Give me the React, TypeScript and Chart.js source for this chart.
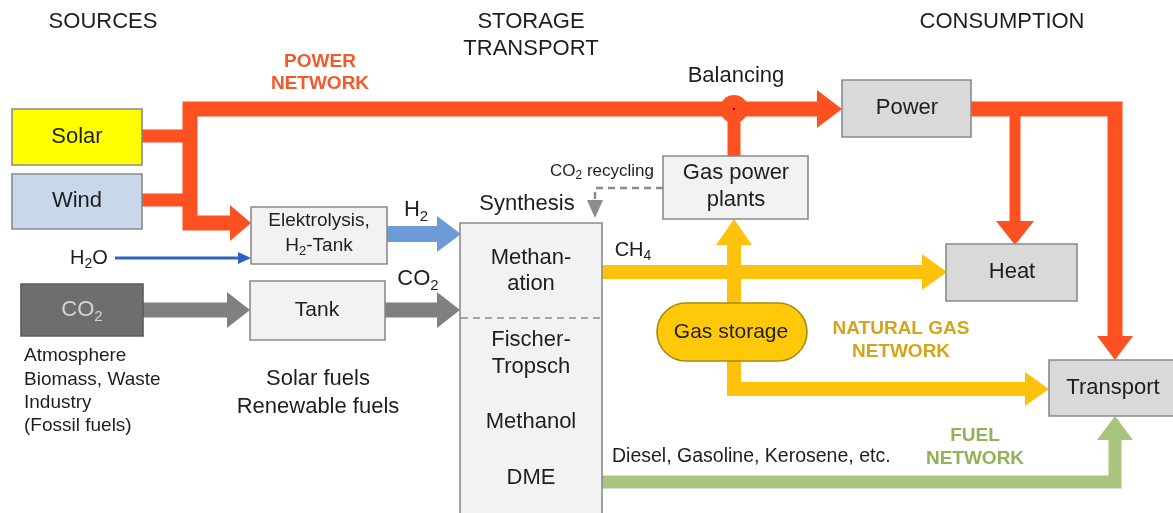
import { useEffect, useRef } from "react";
import { Chart, registerables } from "chart.js";

Chart.register(...registerables);

// ---------- content ----------
const columnTitles = ["SOURCES", "STORAGE", "TRANSPORT", "CONSUMPTION"];
const nodeNames = [
  "Solar",
  "Wind",
  "CO_2",
  "Elektrolysis,|H_2-Tank",
  "Tank",
  "Methan-|ation",
  "Fischer-|Tropsch",
  "Methanol",
  "DME",
  "Gas power|plants",
  "Gas storage",
  "Power",
  "Heat",
  "Transport",
];
const networkNames = ["POWER|NETWORK", "NATURAL GAS|NETWORK", "FUEL|NETWORK"];
const flowLabels = ["H_2O", "H_2", "CO_2", "CH_4", "CO_2 recycling", "Synthesis", "Balancing", "Diesel, Gasoline, Kerosene, etc."];
const noteLines = ["Atmosphere", "Biomass, Waste", "Industry", "(Fossil fuels)"];
const fuelLines = ["Solar fuels", "Renewable fuels"];

// ---------- flow paths (diagram units) ----------
const powerTrunk = [[232, 223], [190, 223], [190, 109], [818, 109]];
const solarFeed = [[142, 136], [190, 136]];
const windFeed = [[142, 200], [190, 200]];
const balancingLink = [[734, 109], [734, 156]];
const powerOut = [[970, 109], [1115, 109], [1115, 337]];
const heatBranch = [[1015, 109], [1015, 222]];
const ch4Line = [[602, 272], [923, 272]];
const gasLine = [[734, 244], [734, 389], [1026, 389]];
const fuelLine = [[602, 482], [1115, 482], [1115, 440]];
const h2Line = [[387, 234], [438, 234]];
const co2LineA = [[143, 310], [228, 310]];
const co2LineB = [[385, 310], [438, 310]];
const h2oLine = [[115, 258], [239, 258]];
const recycleLine = [[663, 188], [595, 188], [595, 201]];

const RED = "#fe5122";
const YEL = "#ffc20c";
const GRN = "#a9c47e";
const BLU = "#6c9bd8";
const DBL = "#2f63c0";
const GRY = "#808080";
const DGR = "#8c8c8c";

const flows = [
  { pts: powerTrunk, color: RED, w: 15 },
  { pts: solarFeed, color: RED, w: 13 },
  { pts: windFeed, color: RED, w: 13 },
  { pts: balancingLink, color: RED, w: 13 },
  { pts: powerOut, color: RED, w: 15 },
  { pts: heatBranch, color: RED, w: 11 },
  { pts: ch4Line, color: YEL, w: 14 },
  { pts: gasLine, color: YEL, w: 14 },
  { pts: fuelLine, color: GRN, w: 13 },
  { pts: h2Line, color: BLU, w: 16 },
  { pts: co2LineA, color: GRY, w: 15 },
  { pts: co2LineB, color: GRY, w: 15 },
  { pts: h2oLine, color: DBL, w: 3 },
  { pts: recycleLine, color: DGR, w: 2.5, dash: [7, 5] },
];

// arrowheads: tip x, tip y, direction, length, half width, colour
const arrowTipX = [251, 842, 1015, 1115, 947, 734, 1049, 1115, 461, 250, 460, 251, 595];
const arrowTipY = [223, 109, 245, 360, 272, 219, 389, 416, 234, 310, 310, 258, 218];
const arrowDir = ["r", "r", "d", "d", "r", "u", "r", "u", "r", "r", "r", "r", "d"];
const arrowLen = [21, 25, 24, 24, 25, 26, 24, 24, 24, 23, 23, 13, 18];
const arrowHalf = [18, 19, 19, 18, 18, 18, 17, 18, 18, 18, 18, 6, 8];
const arrowColor = [RED, RED, RED, RED, YEL, YEL, YEL, GRN, BLU, GRY, GRY, DBL, DGR];

// boxes: x1, y1, x2, y2
const boxX1 = [12, 12, 21, 251, 250, 460, 663, 657, 842, 946, 1049];
const boxY1 = [109, 174, 284, 207, 281, 223, 156, 303, 80, 244, 360];
const boxX2 = [142, 142, 143, 387, 385, 602, 808, 807, 971, 1077, 1185];
const boxY2 = [165, 229, 336, 264, 340, 525, 219, 361, 137, 301, 416];
const boxFill = ["#ffff00", "#c8d8ea", "#6e6e6e", "#f2f2f2", "#f2f2f2", "#f2f2f2", "#f2f2f2", "#ffc90a", "#d9d9d9", "#d9d9d9", "#d9d9d9"];
const boxStroke = ["#8a8a8a", "#8a8a8a", "#5c5c5c", "#8a8a8a", "#8a8a8a", "#8a8a8a", "#8a8a8a", "#a88a10", "#8a8a8a", "#8a8a8a", "#8a8a8a"];
const boxPill = [false, false, false, false, false, false, false, true, false, false, false];

type T = { s: string; x: number; y: number; size: number; bold?: boolean; color?: string; align?: "left" | "center"; lh?: number };

const texts: T[] = [
  { s: columnTitles[0], x: 103, y: 22, size: 22 },
  { s: columnTitles[1], x: 531, y: 22, size: 22 },
  { s: columnTitles[2], x: 531, y: 49, size: 22 },
  { s: columnTitles[3], x: 1002, y: 22, size: 22 },
  { s: nodeNames[0], x: 77, y: 137, size: 22 },
  { s: nodeNames[1], x: 77, y: 201, size: 22 },
  { s: nodeNames[2], x: 82, y: 310, size: 22, color: "#d4d4d4" },
  { s: nodeNames[3], x: 319, y: 221, size: 19, lh: 25 },
  { s: nodeNames[4], x: 317, y: 310, size: 21 },
  { s: nodeNames[5], x: 531, y: 258, size: 22, lh: 26 },
  { s: nodeNames[6], x: 531, y: 340, size: 22, lh: 27 },
  { s: nodeNames[7], x: 531, y: 422, size: 22 },
  { s: nodeNames[8], x: 531, y: 478, size: 22 },
  { s: nodeNames[9], x: 736, y: 173, size: 22, lh: 27 },
  { s: nodeNames[10], x: 731, y: 332, size: 21 },
  { s: nodeNames[11], x: 907, y: 108, size: 22 },
  { s: nodeNames[12], x: 1012, y: 272, size: 22 },
  { s: nodeNames[13], x: 1113, y: 388, size: 22 },
  { s: networkNames[0], x: 320, y: 62, size: 19, bold: true, color: "#f25a2a", lh: 22 },
  { s: networkNames[1], x: 901, y: 329, size: 19, bold: true, color: "#d4a41c", lh: 23 },
  { s: networkNames[2], x: 975, y: 436, size: 19, bold: true, color: "#93b257", lh: 23 },
  { s: flowLabels[0], x: 89, y: 258, size: 20 },
  { s: flowLabels[1], x: 416, y: 210, size: 22 },
  { s: flowLabels[2], x: 418, y: 279, size: 22 },
  { s: flowLabels[3], x: 633, y: 250, size: 20 },
  { s: flowLabels[4], x: 602, y: 171, size: 17 },
  { s: flowLabels[5], x: 527, y: 204, size: 22 },
  { s: flowLabels[6], x: 736, y: 76, size: 22 },
  { s: flowLabels[7], x: 612, y: 457, size: 19.5, align: "left" },
  { s: noteLines.join("|"), x: 24, y: 356, size: 19, align: "left", lh: 23.3 },
  { s: fuelLines.join("|"), x: 318, y: 379, size: 22, lh: 28 },
];

const FONT = '"Liberation Sans", Arial, sans-serif';

function drawRich(ctx: CanvasRenderingContext2D, str: string, x: number, y: number, size: number, bold: boolean, color: string, align: string) {
  const segs = str.split(/(_\d)/).filter((p) => p.length).map((p) => (p.startsWith("_") && p.length === 2 ? { t: p.slice(1), sub: true } : { t: p, sub: false }));
  const w = bold ? "bold " : "";
  const f = (sub: boolean) => `${w}${sub ? Math.round(size * 0.68) : size}px ${FONT}`;
  let total = 0;
  const widths = segs.map((s) => {
    ctx.font = f(s.sub);
    const m = ctx.measureText(s.t).width;
    total += m;
    return m;
  });
  let cx = align === "left" ? x : x - total / 2;
  ctx.fillStyle = color;
  ctx.textBaseline = "middle";
  ctx.textAlign = "left";
  segs.forEach((s, i) => {
    ctx.font = f(s.sub);
    ctx.fillText(s.t, cx, s.sub ? y + size * 0.3 : y);
    cx += widths[i];
  });
}

const diagramPlugin = {
  id: "diagram",
  beforeDraw(chart: any) {
    const ctx = chart.ctx as CanvasRenderingContext2D;
    ctx.save();
    ctx.fillStyle = "#ffffff";
    ctx.fillRect(0, 0, chart.width, chart.height);
    ctx.restore();
  },
  afterDatasetsDraw(chart: any) {
    const ctx = chart.ctx as CanvasRenderingContext2D;
    const sx = chart.scales.x;
    const sy = chart.scales.y;
    const X = (v: number) => sx.getPixelForValue(v);
    const Y = (v: number) => sy.getPixelForValue(v);
    const unit = X(1) - X(0);
    ctx.save();

    // arrowheads
    arrowTipX.forEach((tx, i) => {
      const ty = arrowTipY[i];
      const L = arrowLen[i];
      const H = arrowHalf[i];
      const d = arrowDir[i];
      ctx.beginPath();
      if (d === "r") {
        ctx.moveTo(X(tx), Y(ty));
        ctx.lineTo(X(tx - L), Y(ty - H));
        ctx.lineTo(X(tx - L), Y(ty + H));
      } else if (d === "d") {
        ctx.moveTo(X(tx), Y(ty));
        ctx.lineTo(X(tx - H), Y(ty - L));
        ctx.lineTo(X(tx + H), Y(ty - L));
      } else {
        ctx.moveTo(X(tx), Y(ty));
        ctx.lineTo(X(tx - H), Y(ty + L));
        ctx.lineTo(X(tx + H), Y(ty + L));
      }
      ctx.closePath();
      ctx.fillStyle = arrowColor[i];
      ctx.fill();
    });

    // balancing node
    ctx.beginPath();
    ctx.arc(X(734), Y(109), 14 * unit, 0, Math.PI * 2);
    ctx.fillStyle = RED;
    ctx.fill();
    ctx.beginPath();
    ctx.arc(X(734), Y(109), 1.3 * unit, 0, Math.PI * 2);
    ctx.fillStyle = "#a01010";
    ctx.fill();

    // boxes
    boxX1.forEach((x1, i) => {
      const l = X(x1), t = Y(boxY1[i]), r = X(boxX2[i]), b = Y(boxY2[i]);
      ctx.beginPath();
      if (boxPill[i]) {
        const rad = (b - t) / 2;
        ctx.moveTo(l + rad, t);
        ctx.lineTo(r - rad, t);
        ctx.arc(r - rad, t + rad, rad, -Math.PI / 2, Math.PI / 2);
        ctx.lineTo(l + rad, b);
        ctx.arc(l + rad, t + rad, rad, Math.PI / 2, (3 * Math.PI) / 2);
        ctx.closePath();
      } else {
        ctx.rect(l, t, r - l, b - t);
      }
      ctx.fillStyle = boxFill[i];
      ctx.fill();
      ctx.lineWidth = 1.6;
      ctx.strokeStyle = boxStroke[i];
      ctx.stroke();
    });

    // dashed separator inside synthesis column
    ctx.beginPath();
    ctx.setLineDash([7, 5]);
    ctx.moveTo(X(461), Y(318));
    ctx.lineTo(X(601), Y(318));
    ctx.lineWidth = 1.6;
    ctx.strokeStyle = "#8a8a8a";
    ctx.stroke();
    ctx.setLineDash([]);

    // texts
    texts.forEach((t) => {
      const lines = t.s.split("|");
      const lh = t.lh ?? t.size * 1.2;
      lines.forEach((line, k) => {
        drawRich(ctx, line, X(t.x), Y(t.y + k * lh), t.size, !!t.bold, t.color ?? "#1e1e1e", t.align ?? "center");
      });
    });
    ctx.restore();
  },
};

export default function App() {
  const ref = useRef<HTMLCanvasElement | null>(null);
  useEffect(() => {
    if (!ref.current) return;
    const chart = new Chart(ref.current, {
      type: "scatter",
      data: {
        datasets: flows.map((f) => ({
          data: f.pts.map(([x, y]) => ({ x, y })),
          showLine: true,
          borderColor: f.color,
          backgroundColor: f.color,
          borderWidth: f.w,
          pointRadius: 0,
          pointHoverRadius: 0,
          borderJoinStyle: "miter",
          borderCapStyle: "butt",
          borderDash: (f as any).dash ?? [],
          tension: 0,
          fill: false,
        })) as any,
      },
      options: {
        animation: false,
        responsive: false,
        events: [],
        layout: { padding: 0 },
        plugins: { legend: { display: false }, tooltip: { enabled: false } },
        scales: {
          x: { type: "linear", min: 0, max: 1173, display: false },
          y: { type: "linear", min: 0, max: 513, reverse: true, display: false },
        },
      },
      plugins: [diagramPlugin],
    });
    return () => chart.destroy();
  }, []);
  return (
    <div style={{ position: "absolute", left: 0, top: 0, width: 1173, height: 513 }}>
      <canvas ref={ref} width={1173} height={513} style={{ width: 1173, height: 513, display: "block" }} />
    </div>
  );
}
